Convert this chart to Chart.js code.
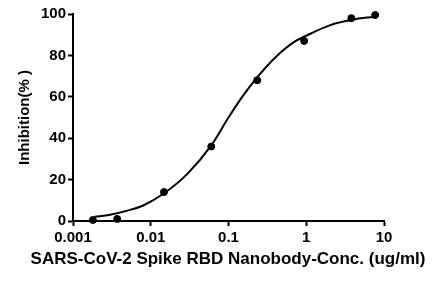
<!DOCTYPE html>
<html>
<head>
<meta charset="utf-8">
<script src="https://cdn.jsdelivr.net/npm/chart.js@4"></script>
<style>
  html, body { margin: 0; padding: 0; background: #fff; }
  #wrap { width: 446px; height: 284px; }
</style>
</head>
<body>
<div id="wrap"><canvas id="ic50Chart" width="446" height="284"></canvas></div>
<script>
// measured points
const concX = [0.0018, 0.0037, 0.0148, 0.060, 0.234, 0.94, 3.8, 7.7];
const inhibY = [0.5, 1, 14, 36, 68, 87, 98, 99.5];

// fitted curve
const curveX = [0.0019, 0.003, 0.005, 0.008, 0.015, 0.03, 0.06, 0.1, 0.15, 0.235, 0.4, 0.7, 1.0, 2.0, 4.0, 7.5];
const curveY = [2, 3, 5, 7.5, 13.5, 23, 36.5, 50, 60, 69.5, 79, 86.5, 89.5, 94.5, 97.3, 98.7];

// axis ticks
const xTicks = [0.001, 0.01, 0.1, 1, 10];
const xTickLabels = ['0.001', '0.01', '0.1', '1', '10'];
const yTicks = [0, 20, 40, 60, 80, 100];

const xTitle = 'SARS-CoV-2 Spike RBD Nanobody-Conc. (ug/ml)';
const font = '"Liberation Sans", Arial, sans-serif';

// the built-in scale title gets squeezed to the axis width, so draw it here
const xTitlePlugin = {
    id: 'xTitle',
    afterDraw(chart) {
        const c = chart.ctx;
        c.save();
        c.font = 'bold 17px ' + font;
        c.fillStyle = '#000';
        c.textAlign = 'center';
        c.textBaseline = 'middle';
        c.fillText(xTitle, 228, 259);
        c.restore();
    }
};

const ctx = document.getElementById('ic50Chart').getContext('2d');
const ic50Chart = new Chart(ctx, {
    type: 'scatter',
    data: {
        datasets: [
            {
                label: 'fit',
                data: curveX.map((x, i) => ({ x: x, y: curveY[i] })),
                showLine: true,
                borderColor: '#000',
                borderWidth: 2,
                pointRadius: 0,
                cubicInterpolationMode: 'monotone',
                fill: false
            },
            {
                label: 'data',
                data: concX.map((x, i) => ({ x: x, y: inhibY[i] })),
                showLine: false,
                backgroundColor: '#000',
                borderColor: '#000',
                pointRadius: 3.5,
                clip: false
            }
        ]
    },
    plugins: [xTitlePlugin],
    options: {
        responsive: false,
        animation: false,
        devicePixelRatio: 1,
        layout: { padding: { left: 12, top: 14, right: 62, bottom: 10 } },
        plugins: {
            legend: { display: false },
            tooltip: { enabled: false }
        },
        scales: {
            x: {
                type: 'logarithmic',
                min: 0.001,
                max: 10,
                afterBuildTicks: scale => { scale.ticks = xTicks.map(v => ({ value: v })); },
                afterFit: scale => { scale.height = 53; },
                border: { color: '#000', width: 2 },
                grid: {
                    display: true,
                    drawOnChartArea: false,
                    drawTicks: true,
                    tickLength: 5,
                    tickWidth: 2,
                    tickColor: '#000'
                },
                ticks: {
                    color: '#000',
                    font: { family: font, size: 15, weight: 'bold' },
                    padding: 3,
                    maxRotation: 0,
                    autoSkip: false,
                    callback: v => xTickLabels[xTicks.indexOf(v)] ?? ''
                },
                title: { display: false }
            },
            y: {
                min: 0,
                max: 100,
                afterBuildTicks: scale => { scale.ticks = yTicks.map(v => ({ value: v })); },
                afterFit: scale => { scale.width = 61; },
                border: { color: '#000', width: 2 },
                grid: {
                    display: true,
                    drawOnChartArea: false,
                    drawTicks: true,
                    tickLength: 5,
                    tickWidth: 2,
                    tickColor: '#000'
                },
                ticks: {
                    color: '#000',
                    font: { family: font, size: 15, weight: 'bold' },
                    padding: 2
                },
                title: {
                    display: true,
                    text: 'Inhibition(% )',
                    color: '#000',
                    font: { family: font, size: 15, weight: 'bold' },
                    padding: { top: 4, bottom: 4 }
                }
            }
        }
    }
});
</script>
</body>
</html>
